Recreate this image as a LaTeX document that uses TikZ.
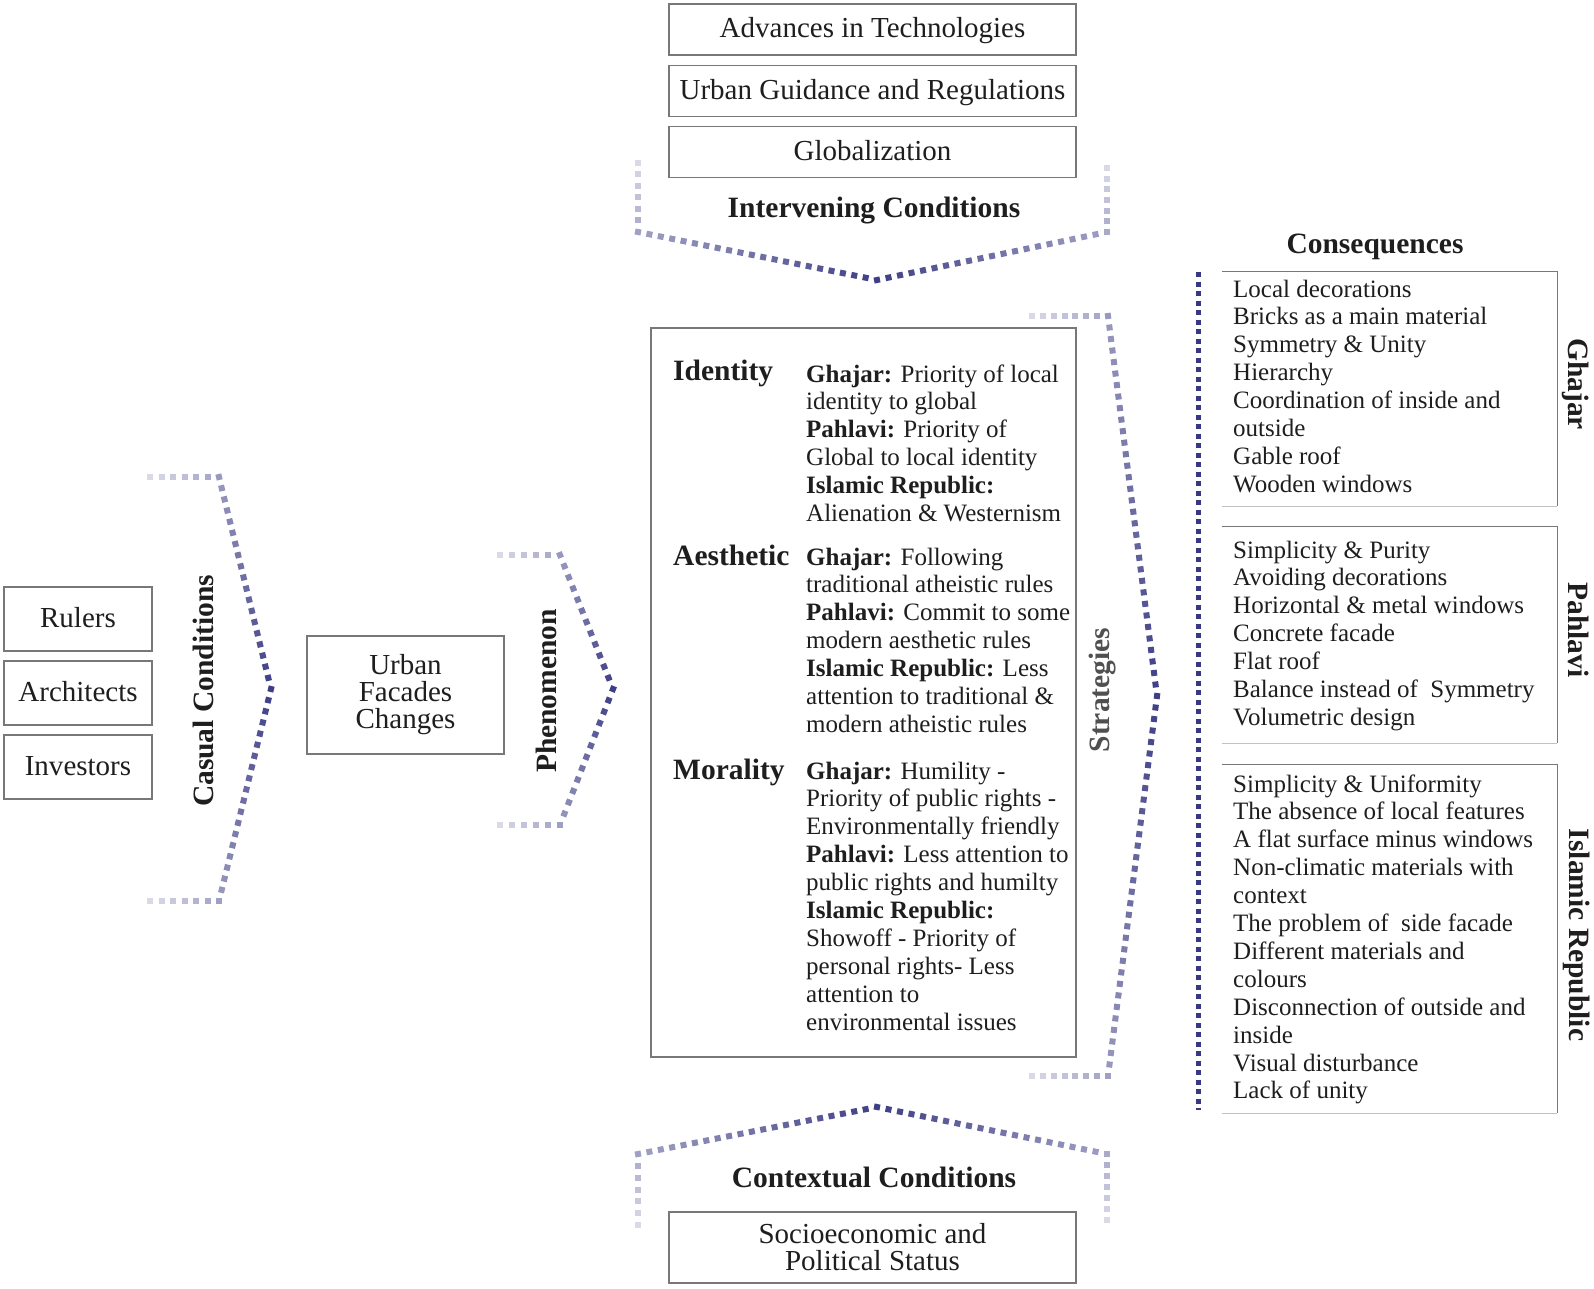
\documentclass[tikz,border=0pt]{standalone}
\usepackage{fontspec}
\setmainfont{Liberation Serif}
\definecolor{dk}{RGB}{62,62,135}
\definecolor{lt}{RGB}{226,226,236}
\definecolor{cline}{RGB}{55,55,130}
\definecolor{txtc}{RGB}{30,30,30}
\definecolor{boxc}{RGB}{120,120,120}
\definecolor{strc}{RGB}{80,80,80}
\newcommand\ttlf{\fontsize{29.5}{32}\selectfont\bfseries}
\newcommand\boxf{\fontsize{29}{27}\selectfont}
\newcommand\smf{\fontsize{25}{28}\selectfont}
\newcommand\dotrun[6]{%
  \foreach \k in {0,...,#6}{%
    \pgfmathsetmacro\dfr{\k/#5}%
    \pgfmathtruncatemacro\dpc{#3+(#4-#3)*\k/#5}%
    \path #1 -- #2 node[dotsq, pos=\dfr, sloped, fill=dk!\dpc!lt] {};
  }}
\newcommand\textlines[4]{%
  \foreach \ln [count=\ii from 0] in {#4} {%
    \node[lnode] (#1\ii) at (#2, {#3+\ii*27.9}) {\ln};
  }}
\tikzset{
  dotsq/.style={rectangle, minimum size=6pt, inner sep=0pt, draw=none},
  lbox/.style={draw=boxc, line width=1.3pt, inner sep=0pt, text=txtc, font=\boxf, text height=21pt, text depth=4pt},
  mbox/.style={draw=boxc, line width=1.3pt, inner sep=0pt, text=txtc, font=\boxf, align=center},
  ttl/.style={font=\ttlf, text=txtc, inner sep=0pt},
  lnode/.style={font=\smf, text=txtc, inner sep=0pt, anchor=base west},
  plain/.style={inner sep=0pt, draw=none},
}
\begin{document}
\begin{tikzpicture}[x=1pt, y=-1pt]
\useasboundingbox[fill=white] (0,0) rectangle (1594,1289);

% top boxes
\node[lbox, minimum width=407pt, minimum height=51pt] (adv) at (872.5,29.5) {Advances in Technologies};
\node[lbox, minimum width=407pt, minimum height=51pt] (ugr) at (872.5,91) {Urban Guidance and Regulations};
\node[lbox, minimum width=407pt, minimum height=51pt] (glo) at (872.5,152) {Globalization};
\node[ttl] (interv) at (874,211) {Intervening Conditions};

% top chevron
\dotrun{(638,163)}{(638,232)}{5}{35}{6}{5}
\dotrun{(638,232)}{(877,280)}{40}{100}{21}{20}
\dotrun{(877,280)}{(1107,232)}{100}{40}{20}{19}
\dotrun{(1107,232)}{(1107,168)}{35}{5}{6}{6}

% left boxes
\node[lbox, minimum width=148pt, minimum height=64pt] (rulers) at (78,619) {Rulers};
\node[lbox, minimum width=148pt, minimum height=64pt] (arch) at (78,693) {Architects};
\node[lbox, minimum width=148pt, minimum height=64pt] (inv) at (78,767) {Investors};
\node[ttl, rotate=90] (casual) at (203,691) {Casual Conditions};

% casual chevron
\dotrun{(150,477)}{(219,477)}{5}{40}{6}{5}
\dotrun{(219,477)}{(271,689)}{45}{100}{19}{18}
\dotrun{(271,689)}{(219,901)}{100}{45}{19}{18}
\dotrun{(219,901)}{(150,901)}{40}{5}{6}{6}

% phenomenon
\node[mbox, minimum width=197pt, minimum height=118pt] (ufc) at (405.5,695) {Urban\\Facades\\Changes};
\node[ttl, rotate=90] (phen) at (546,691) {Phenomenon};
\dotrun{(500,555)}{(560,555)}{5}{40}{5}{4}
\dotrun{(560,555)}{(613,689)}{45}{100}{12}{11}
\dotrun{(613,689)}{(560,825)}{100}{45}{12}{11}
\dotrun{(560,825)}{(500,825)}{40}{5}{5}{5}

% strategies box
\node[draw=boxc, line width=1.5pt, minimum width=425pt, minimum height=729pt, inner sep=0pt] (strat) at (863.5,692.5) {};
\node[ttl, anchor=base west] (lid) at (673,380) {Identity};
\node[ttl, anchor=base west] (lae) at (673,565) {Aesthetic};
\node[ttl, anchor=base west] (lmo) at (673,779) {Morality};
\textlines{id}{806}{382}{{\textbf{Ghajar:} Priority of local},identity to global,{\textbf{Pahlavi:} Priority of},Global to local identity,{\textbf{Islamic Republic:}},Alienation \& Westernism}
\textlines{ae}{806}{565}{{\textbf{Ghajar:} Following},traditional atheistic rules,{\textbf{Pahlavi:} Commit to some},modern aesthetic rules,{\textbf{Islamic Republic:} Less},attention to traditional \&,modern atheistic rules}
\textlines{mo}{806}{779}{{\textbf{Ghajar:} Humility -},Priority of public rights -,Environmentally friendly,{\textbf{Pahlavi:} Less attention to},public rights and humilty,{\textbf{Islamic Republic:}},Showoff - Priority of,personal rights- Less,attention to,environmental issues}
\node[ttl, rotate=90, text=strc] (strl) at (1103,690) {Strategies};
\dotrun{(1032,316)}{(1108,316)}{5}{40}{7}{6}
\dotrun{(1108,316)}{(1157,696)}{45}{100}{33}{32}
\dotrun{(1157,696)}{(1108,1076)}{100}{45}{33}{32}
\dotrun{(1108,1076)}{(1032,1076)}{40}{5}{7}{7}

% contextual
\dotrun{(638,1225)}{(638,1154)}{5}{35}{6}{5}
\dotrun{(638,1154)}{(877,1107)}{40}{100}{21}{20}
\dotrun{(877,1107)}{(1107,1154)}{100}{40}{20}{19}
\dotrun{(1107,1154)}{(1107,1220)}{35}{5}{6}{6}
\node[ttl] (ctx) at (874,1177) {Contextual Conditions};
\node[mbox, minimum width=407pt, minimum height=71pt] (soc) at (872.5,1247.5) {Socioeconomic and\\Political Status};

% consequences
\node[ttl] (cons) at (1375,247) {Consequences};
\coordinate (ctop) at (1198,272);
\coordinate (cbot) at (1198,1110);
\draw[cline, line width=5pt, dash pattern=on 5pt off 4.5pt] (ctop) -- (cbot);

\node[plain, minimum width=335pt, minimum height=234pt] (gb) at (1389.5,389) {};
\node[plain, minimum width=335pt, minimum height=216pt] (pb) at (1389.5,635) {};
\node[plain, minimum width=335pt, minimum height=348pt] (ib) at (1389.5,939) {};
\foreach \b in {gb,pb,ib}{
  \draw[boxc, line width=1.3pt] (\b.north west) -- (\b.north east) -- (\b.south east);
  \draw[boxc!45, line width=1.3pt] (\b.south east) -- (\b.south west);
}
\textlines{gh}{1233}{297}{Local decorations,Bricks as a main material,Symmetry \& Unity,Hierarchy,Coordination of inside and,outside,Gable roof,Wooden windows}
\textlines{pa}{1233}{558}{Simplicity \& Purity,Avoiding decorations,Horizontal \& metal windows,Concrete facade,Flat roof,Balance instead of~ Symmetry,Volumetric design}
\textlines{ir}{1233}{792}{Simplicity \& Uniformity,The absence of local features,A flat surface minus windows,Non-climatic materials with,context,The problem of~ side facade,Different materials and,colours,Disconnection of outside and,inside,Visual disturbance,Lack of unity}
\node[ttl, rotate=-90] (ghl) at (1576,384) {Ghajar};
\node[ttl, rotate=-90] (pal) at (1579,630) {Pahlavi};
\node[ttl, rotate=-90] (irl) at (1577,935) {Islamic Republic};
\end{tikzpicture}
\end{document}
